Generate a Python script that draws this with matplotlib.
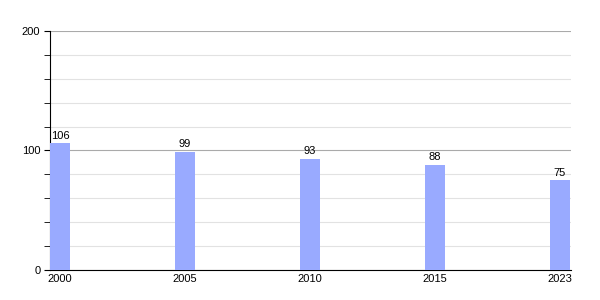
import matplotlib.pyplot as plt
from matplotlib.ticker import MultipleLocator

years = ['2000', '2005', '2010', '2015', '2023']
values = [106, 99, 93, 88, 75]

plt.rcParams['font.family'] = ['Liberation Sans', 'DejaVu Sans']

fig = plt.figure(figsize=(6, 3), dpi=100)
ax = fig.add_axes([0.0833, 0.1, 0.8684, 0.7967])

x = list(range(len(years)))
bars = ax.bar(x, values, width=0.16, color='#99aaff', zorder=3)
for xi, v in zip(x, values):
    ax.text(xi, v + 2, str(v), ha='center', va='bottom', fontsize=8, zorder=4)

ax.set_xlim(-0.08, 4.09)
ax.set_ylim(0, 200)
ax.set_xticks(x)
ax.set_xticklabels(years)
ax.yaxis.set_major_locator(MultipleLocator(100))
ax.yaxis.set_minor_locator(MultipleLocator(20))
ax.grid(axis='y', which='major', color='#aaaaaa', linewidth=0.8, zorder=0)
ax.grid(axis='y', which='minor', color='#e2e2e2', linewidth=0.8, zorder=0)

for s in ['top', 'right']:
    ax.spines[s].set_visible(False)
ax.spines['left'].set_color('black')
ax.spines['bottom'].set_color('black')
ax.tick_params(axis='x', length=0, labelsize=8, pad=3)
ax.tick_params(axis='y', which='major', length=4, labelsize=8, pad=3)
ax.tick_params(axis='y', which='minor', length=4)

fig.savefig('out.png', dpi=100)
